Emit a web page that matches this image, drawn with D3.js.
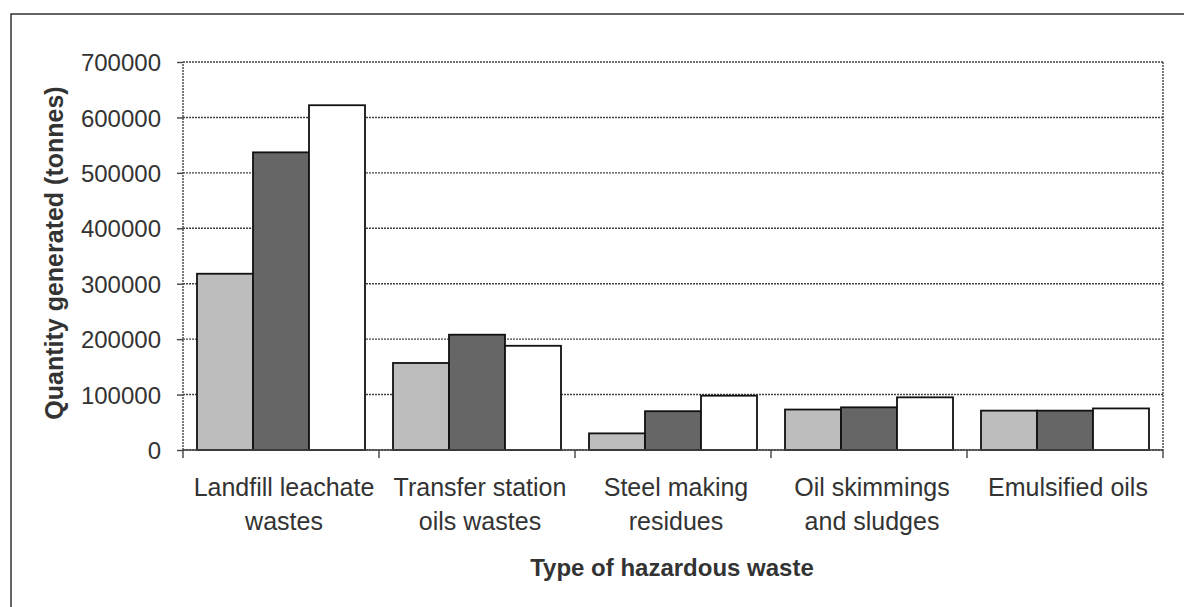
<!DOCTYPE html>
<html>
<head>
<meta charset="utf-8">
<script src="https://cdn.jsdelivr.net/npm/d3@7"></script>
<style>
body { margin: 0; background: #fff; }
text { font-family: "Liberation Sans", Arial, sans-serif; fill: #222; }
</style>
</head>
<body>
<script>
// data
var categories = [
  ["Landfill leachate", "wastes"],
  ["Transfer station", "oils wastes"],
  ["Steel making", "residues"],
  ["Oil skimmings", "and sludges"],
  ["Emulsified oils"]
];
var seriesA = [318000, 157000, 30000, 73000, 71000];
var seriesB = [537000, 208000, 70000, 77000, 71000];
var seriesC = [622000, 188000, 98000, 95000, 75000];
var yTicks = [0, 100000, 200000, 300000, 400000, 500000, 600000, 700000];

var w = 1184;
var h = 607;
var svg = d3.select("body").append("svg")
            .attr("width", w)
            .attr("height", h);

// outer frame
svg.append("rect")
    .attr("x", 11)
    .attr("y", 14)
    .attr("width", 1190)
    .attr("height", 620)
    .attr("fill", "none")
    .attr("stroke", "#333")
    .attr("stroke-width", 1.5);

var plotL = 183, plotR = 1163, plotT = 62, plotB = 450;

var x = d3.scaleBand()
    .domain(d3.range(categories.length))
    .range([plotL, plotR])
    .paddingInner(0)
    .paddingOuter(0);

var x1 = d3.scaleBand()
    .domain([0, 1, 2])
    .range([0, x.bandwidth()])
    .paddingOuter(0.25)
    .paddingInner(0);

var y = d3.scaleLinear()
    .domain([0, 700000])
    .range([plotB, plotT]);

// gridlines
svg.append("g")
  .selectAll("line")
  .data(yTicks)
  .join("line")
    .attr("x1", plotL)
    .attr("x2", plotR)
    .attr("y1", d => y(d))
    .attr("y2", d => y(d))
    .attr("stroke", "#444")
    .attr("stroke-width", 1.4)
    .attr("stroke-dasharray", "2,1");

// right border of plot
svg.append("line")
    .attr("x1", plotR).attr("x2", plotR)
    .attr("y1", plotT).attr("y2", plotB)
    .attr("stroke", "#444")
    .attr("stroke-width", 1.4)
    .attr("stroke-dasharray", "2,1");

// bars
var series = [
  { vals: seriesA, fill: "#bdbdbd" },
  { vals: seriesB, fill: "#666666" },
  { vals: seriesC, fill: "#ffffff" }
];

series.forEach(function(s, si) {
  svg.append("g")
    .selectAll("rect")
    .data(s.vals)
    .join("rect")
      .attr("x", (d, i) => x(i) + x1(si))
      .attr("y", d => y(d))
      .attr("width", x1.bandwidth())
      .attr("height", d => plotB - y(d))
      .attr("fill", s.fill)
      .attr("stroke", "#111")
      .attr("stroke-width", 1.8);
});

// y axis
var yAxis = svg.append("g")
    .attr("transform", "translate(" + plotL + ",0)")
    .call(d3.axisLeft(y).tickValues(yTicks).tickSize(6).tickPadding(16).tickFormat(d3.format("d")));
yAxis.selectAll("text").style("font-size", "24px").attr("dy", "0.36em").style("fill", "#333");
yAxis.selectAll("line, path").attr("stroke", "#444").attr("stroke-width", 1.4);
yAxis.select("path").attr("d", "M0," + plotB + "V" + plotT).attr("stroke-dasharray", "2,1");

// x axis
var xAxis = svg.append("g")
    .attr("transform", "translate(0," + plotB + ")")
    .call(d3.axisBottom(x).tickSize(0).tickFormat(""));
xAxis.select("path").attr("stroke", "#444").attr("stroke-width", 1.4)
    .attr("d", "M" + plotL + ",0H" + plotR);

svg.append("g")
  .selectAll("line")
  .data(d3.range(categories.length + 1))
  .join("line")
    .attr("x1", i => plotL + i * x.step())
    .attr("x2", i => plotL + i * x.step())
    .attr("y1", plotB)
    .attr("y2", plotB + 8)
    .attr("stroke", "#444")
    .attr("stroke-width", 1.4);

// category labels
var lab = svg.append("g")
  .selectAll("text")
  .data(categories)
  .join("text")
    .attr("x", (d, i) => x(i) + x.bandwidth() / 2 + 3)
    .attr("y", 496)
    .attr("text-anchor", "middle")
    .style("font-size", "25px")
    .style("fill", "#333");
lab.selectAll("tspan")
  .data(d => d)
  .join("tspan")
    .attr("x", function() { return d3.select(this.parentNode).attr("x"); })
    .attr("dy", (d, i) => i === 0 ? 0 : 34)
    .text(d => d);

// axis titles
svg.append("text")
    .attr("x", 672)
    .attr("y", 576)
    .attr("text-anchor", "middle")
    .style("font-size", "24px")
    .style("font-weight", "bold")
    .style("fill", "#333")
    .text("Type of hazardous waste");

svg.append("text")
    .attr("transform", "translate(63," + 253 + ") rotate(-90)")
    .attr("text-anchor", "middle")
    .style("font-size", "25px")
    .style("font-weight", "bold")
    .style("fill", "#333")
    .text("Quantity generated (tonnes)");
</script>
</body>
</html>
